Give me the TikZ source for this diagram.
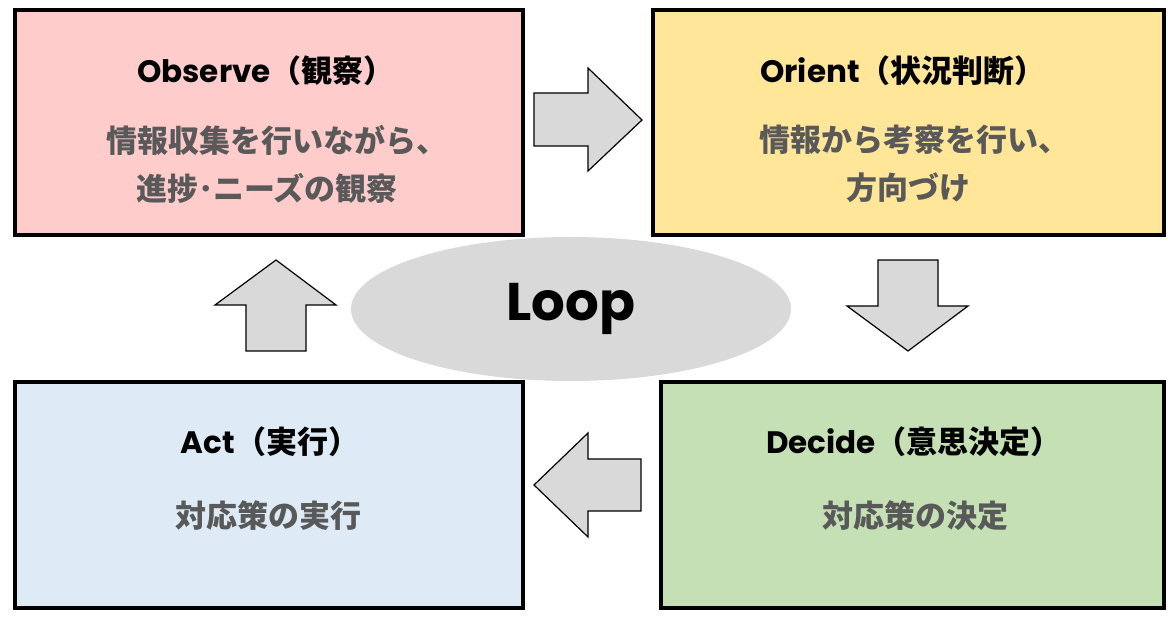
\documentclass[tikz,border=0pt]{standalone}
\usepackage{fontspec}
\setmainfont{Poppins}
\newfontfamily\jp{Noto Sans CJK JP}
\usetikzlibrary{shapes.geometric}
\definecolor{pinkc}{HTML}{FFCCCC}
\definecolor{yellowc}{HTML}{FFE699}
\definecolor{bluec}{HTML}{DEEBF7}
\definecolor{greenc}{HTML}{C5E0B4}
\definecolor{greyc}{HTML}{D9D9D9}
\definecolor{textgrey}{HTML}{595959}
\tikzset{
  box/.style={draw=black, line width=4pt, rectangle, inner sep=0pt},
  ttl/.style={font=\fontsize{31}{36}\selectfont\bfseries, text=black, inner sep=0pt},
  body/.style={font=\jp\fontsize{31}{48}\selectfont\bfseries, text=textgrey, align=center, inner sep=0pt},
  blockarrow/.style={draw=black, line width=1.2pt, fill=greyc, line join=miter}
}
\begin{document}
\begin{tikzpicture}[x=1pt,y=-1pt]
\useasboundingbox (0,0) rectangle (1168,620);
% boxes
\node[box, fill=pinkc, minimum width=508pt, minimum height=225pt] (obs) at (269,122.5) {};
\node[box, fill=yellowc, minimum width=511pt, minimum height=225pt] (ori) at (908.5,122.5) {};
\node[box, fill=bluec, minimum width=508pt, minimum height=226pt] (act) at (269,495) {};
\node[box, fill=greenc, minimum width=503pt, minimum height=226pt] (dec) at (912.5,495) {};
% titles
\node[ttl] (obsT) at (266,71) {Observe{\jp（観察）}};
\node[ttl] (oriT) at (903,71) {Orient{\jp（状況判断）}};
\node[ttl] (actT) at (270,442) {Act{\jp（実行）}};
\node[ttl] (decT) at (914,442) {Decide{\jp（意思決定）}};
% bodies
\node[body] (obsB) at (267,164) {\hspace*{20pt}情報収集を行いながら、\\進捗･ニーズの観察};
\node[body] (oriB) at (908,164) {\hspace*{12pt}情報から考察を行い、\\方向づけ};
\node[body] (actB) at (268,516) {対応策の実行};
\node[body] (decB) at (915,516) {対応策の決定};
% loop
\node[ellipse, fill=greyc, minimum width=440pt, minimum height=144pt, inner sep=0pt,
      font=\fontsize{53}{60}\selectfont\bfseries] (loop) at (571,309) {Loop};
% block arrows
\draw[blockarrow] (534,93) -- (588,93) -- (588,68) -- (642,120) -- (588,171) -- (588,146) -- (534,146) -- cycle;
\draw[blockarrow] (878,260) -- (938,260) -- (938,306) -- (968,306) -- (908,351) -- (847,306) -- (878,306) -- cycle;
\draw[blockarrow] (276,260) -- (336,305) -- (306,305) -- (306,351) -- (246,351) -- (246,305) -- (215,305) -- cycle;
\draw[blockarrow] (534,485) -- (588,433) -- (588,459) -- (641,459) -- (641,511) -- (588,511) -- (588,537) -- cycle;
\end{tikzpicture}
\end{document}
